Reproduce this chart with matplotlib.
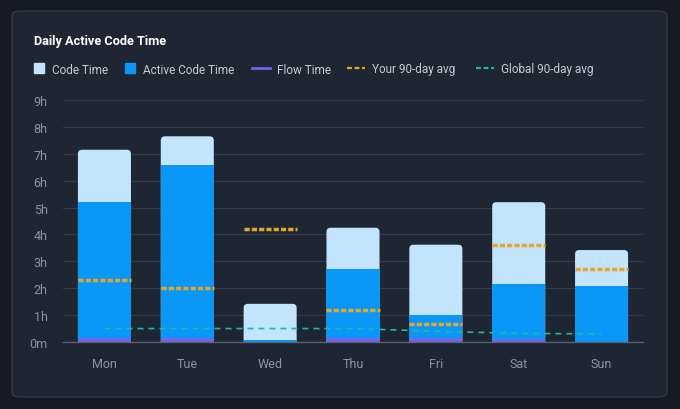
import matplotlib.pyplot as plt
from matplotlib.lines import Line2D
from matplotlib.patches import FancyBboxPatch
import numpy as np

plt.rcParams['font.family'] = ['Roboto', 'DejaVu Sans']

days = ['Mon', 'Tue', 'Wed', 'Thu', 'Fri', 'Sat', 'Sun']
code_time = [7.15, 7.65, 1.42, 4.25, 3.62, 5.2, 3.42]
active_time = [5.22, 6.6, 0.08, 2.72, 1.0, 2.16, 2.08]
flow_time = [0.15, 0.15, 0.0, 0.15, 0.15, 0.12, 0.0]
your_avg = [2.3, 2.0, 4.2, 1.2, 0.68, 3.6, 2.7]
global_avg = [0.5, 0.5, 0.5, 0.5, 0.4, 0.32, 0.3]
y_ticks = [0, 1, 2, 3, 4, 5, 6, 7, 8, 9]
y_labels = ['0m', '1h', '2h', '3h', '4h', '5h', '6h', '7h', '8h', '9h']

c_code = '#c3e4fd'
c_active = '#0a97f7'
c_flow = '#6f66ea'
c_your = '#e3a72b'
c_global = '#1fb8a2'
c_text = '#8b94a4'

fig = plt.figure(figsize=(6.8, 4.1), dpi=100, facecolor='#141a26')
# card background
card = FancyBboxPatch((12 / 680, 12 / 410), 655 / 680, 386 / 410,
                      boxstyle='round,pad=0,rounding_size=0.012',
                      transform=fig.transFigure, facecolor='#1e2533',
                      edgecolor='#323a48', linewidth=1.0, zorder=-10)
fig.patches.append(card)

ax = fig.add_axes([63 / 680, 67 / 410, 580 / 680, 242 / 410])
ax.set_facecolor('none')

x = np.arange(len(days))
w = 0.64
code_bars = ax.bar(x, code_time, width=w, color=c_code, zorder=2)
ax.bar(x, active_time, width=w, color=c_active, zorder=3)
ax.bar(x, flow_time, width=w, color=c_flow, zorder=4)

# round the top corners of the code time bars (bottom part is clipped away)
for r in code_bars:
    r.set_visible(False)
    ax.add_patch(FancyBboxPatch((r.get_x(), -0.4), r.get_width(),
                                r.get_height() + 0.4,
                                boxstyle='round,pad=0,rounding_size=0.05',
                                mutation_aspect=3.1, facecolor=c_code,
                                edgecolor='none', zorder=2))

# your 90-day avg, one dashed segment per bar
for i, v in enumerate(your_avg):
    ax.plot([i - w / 2, i + w / 2], [v, v], color=c_your, lw=2.5,
            dashes=(1.5, 0.6), zorder=6)

ax.plot(x, global_avg, color=c_global, lw=1.2, dashes=(3.6, 3.0), zorder=5)

ax.set_xlim(-0.5, 6.5)
ax.set_ylim(0, 9)
ax.set_yticks(y_ticks)
ax.set_yticklabels(y_labels)
ax.set_xticks(x)
ax.set_xticklabels(days)
ax.grid(axis='y', color='#333b49', lw=0.8, zorder=0)
ax.tick_params(axis='both', length=0, colors=c_text, labelsize=9)
ax.tick_params(axis='x', pad=11)
ax.tick_params(axis='y', pad=11)
for s in ['top', 'right', 'left']:
    ax.spines[s].set_visible(False)
ax.spines['bottom'].set_color('#5b6373')
ax.spines['bottom'].set_linewidth(1.0)
ax.spines['bottom'].set_zorder(7)

fig.text(34 / 680, 1 - 41 / 410, 'Daily Active Code Time', color='white',
         fontsize=9.2, fontweight='bold', va='center', ha='left')

# legend: one small legend per item so each sits where the reference has it
legend_items = [
    (Line2D([], [], marker='s', ls='none', markersize=7.5, color=c_code),
     'Code Time', 34, 0.85, 0.68),
    (Line2D([], [], marker='s', ls='none', markersize=7.5, color=c_active),
     'Active Code Time', 125, 0.85, 0.68),
    (Line2D([], [], color=c_flow, lw=2),
     'Flow Time', 252, 1.55, 0.6),
    (Line2D([], [], color=c_your, lw=1.6, dashes=(2.2, 1.2)),
     'Your 90-day avg', 347, 1.55, 0.6),
    (Line2D([], [], color=c_global, lw=1.6, dashes=(2.2, 1.2)),
     'Global 90-day avg', 476, 1.55, 0.6),
]
for h, lab, px, hl, tp in legend_items:
    fig.legend([h], [lab], loc='center left',
               bbox_to_anchor=(px / 680, 1 - 70 / 410), frameon=False,
               fontsize=8.5, labelcolor='#c4cad4', handlelength=hl,
               handletextpad=tp, borderpad=0, borderaxespad=0)

fig.savefig('out.png', dpi=100, facecolor=fig.get_facecolor())
